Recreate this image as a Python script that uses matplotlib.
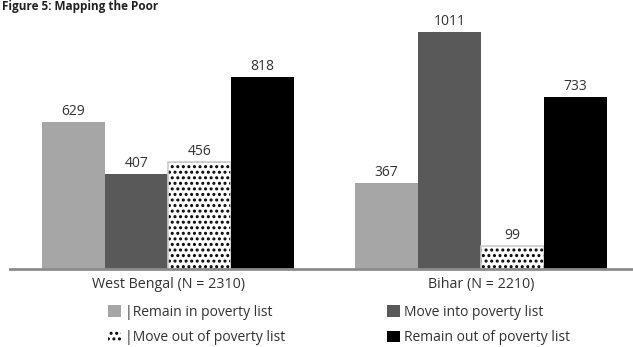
import numpy as np
import matplotlib.pyplot as plt
from matplotlib.patches import Patch

plt.rcParams['font.family'] = ['Open Sans', 'DejaVu Sans']
plt.rcParams['hatch.linewidth'] = 1.4

states = ['West Bengal (N = 2310)', 'Bihar (N = 2210)']
series = ['Remain in poverty list', 'Move into poverty list',
          'Move out of poverty list', 'Remain out of poverty list']
values = [[629, 407, 456, 818],
          [367, 1011, 99, 733]]
colors = ['#a6a6a6', '#595959', 'white', '#000000']
hatches = [None, None, '...', None]

fig = plt.figure(figsize=(6.33, 3.47), dpi=100)
ax = fig.add_axes([10 / 633, (347 - 269) / 347, 623 / 633, (269 - 10) / 347])

x = np.arange(len(states))
w = 0.2013
vals = np.array(values)
for i, s in enumerate(series):
    pos = x + (i - 1.5) * w
    bars = ax.bar(pos, vals[:, i], w, color=colors[i], hatch=hatches[i],
                  edgecolor='black' if hatches[i] else colors[i], linewidth=0)
    if hatches[i]:
        for b in bars:
            ax.add_patch(plt.Rectangle(b.get_xy(), b.get_width(), b.get_height(),
                                       fill=False, edgecolor='#cccccc', lw=1.2))
    for p, v in zip(pos, vals[:, i]):
        ax.text(p, v + 12, str(v), ha='center', va='bottom', fontsize=10,
                color='#333333')

ax.set_xlim(-0.505, 1.486)
ax.set_ylim(0, 1105)
for sp in ['top', 'right', 'left']:
    ax.spines[sp].set_visible(False)
ax.spines['bottom'].set_color('#8c8c8c')
ax.spines['bottom'].set_linewidth(2)
ax.set_yticks([])
ax.set_xticks(x)
ax.set_xticklabels(states, fontsize=10.3, color='#333333')
ax.tick_params(axis='x', length=0, pad=6)

handles = [Patch(facecolor=colors[i], hatch=hatches[i],
                 edgecolor='black' if hatches[i] else colors[i], lw=0)
           for i in range(4)]
labels = ['|' + series[0], series[1], '|' + series[2], series[3]]
order = [0, 2, 1, 3]
fig.legend([handles[i] for i in order], [labels[i] for i in order],
           loc='upper left', bbox_to_anchor=(108 / 633, 1 - 305 / 347),
           ncol=2, frameon=False, fontsize=10, handlelength=0.9, handleheight=0.9,
           handletextpad=0.35, columnspacing=7.3, labelspacing=0.75,
           borderpad=0, borderaxespad=0, labelcolor='#333333')

fig.text(0.003, 0.999, 'Figure 5: Mapping the Poor', fontsize=8.5,
         fontweight='bold', ha='left', va='top', color='#222222')

fig.savefig('out.png', dpi=100)
